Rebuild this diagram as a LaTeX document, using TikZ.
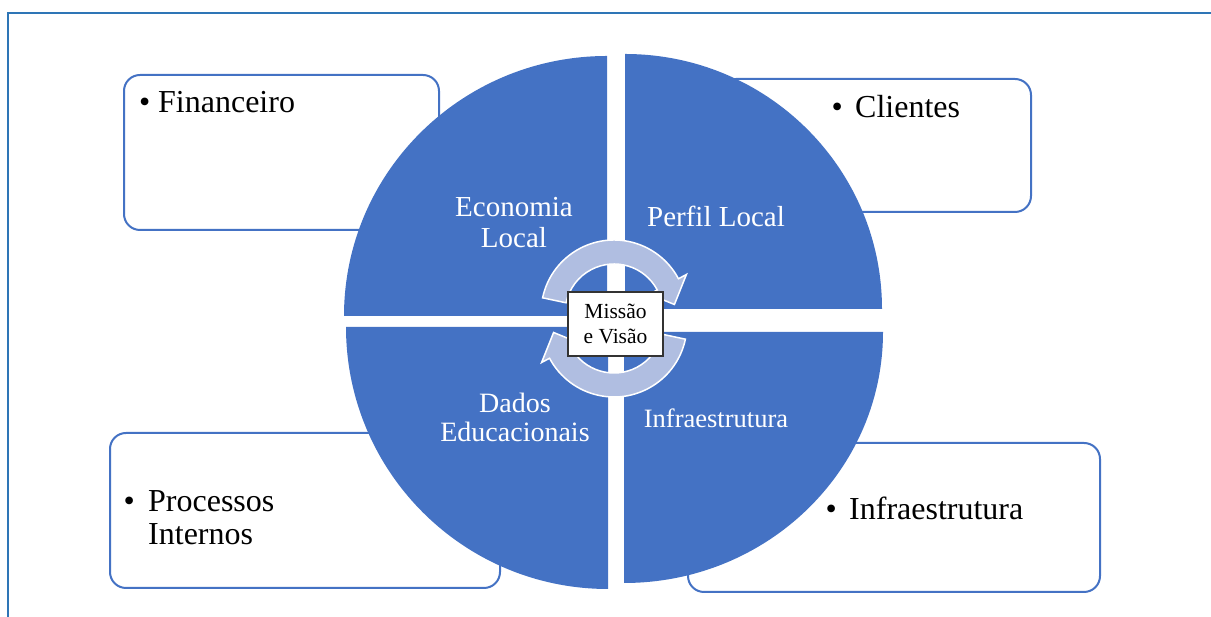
\documentclass[tikz,border=0pt]{standalone}
\usepackage{fontspec}
\setmainfont{Liberation Serif}
\usepackage{tikz}
\usetikzlibrary{positioning}
\definecolor{pieBlue}{RGB}{68,114,196}
\definecolor{frameBlue}{RGB}{46,117,182}
\definecolor{cycleFill}{RGB}{176,190,225}

\begin{document}
\begin{tikzpicture}[x=1pt,y=1pt,
  quad/.style={fill=pieBlue,draw=none},
  note/.style={rectangle,draw=pieBlue,line width=2pt,rounded corners=16pt,fill=white,inner sep=0pt},
  item/.style={inner sep=0pt,anchor=base west,font=\fontsize{32}{33}\selectfont},
  quadtext/.style={inner sep=0pt,anchor=base,text=white,font=\fontsize{29}{31}\selectfont},
  cyc/.style={fill=cycleFill,draw=white,line width=1.5pt,line join=miter},
  hub/.style={rectangle,draw=black!80,fill=white,line width=1.2pt,minimum width=95pt,
              minimum height=64pt,inner sep=0pt,align=center,font=\fontsize{21.5}{24.5}\selectfont}
]
  \useasboundingbox (0,0) rectangle (1211,617);
  \draw[frameBlue,line width=2pt] (8,-10) -- (8,603.5) -- (1225,603.5);

  % perspective boxes behind the pie
  \node[note,minimum width=315pt,minimum height=155pt] (finbox) at (281.5,464.5) {};
  \node[note,minimum width=311pt,minimum height=133pt] (clibox) at (875.5,471.5) {};
  \node[note,minimum width=390pt,minimum height=155pt] (procbox) at (305,106.5) {};
  \node[note,minimum width=412pt,minimum height=149pt] (infrabox) at (894,99.5) {};

  % four quarters of the pie
  \fill[quad] (607,301) -- ++(-263,0) arc[start angle=180,end angle=90,x radius=263,y radius=260] -- cycle;
  \fill[quad] (625,308) -- ++(0,255) arc[start angle=90,end angle=0,x radius=257,y radius=255] -- cycle;
  \fill[quad] (624,285) -- ++(259,0) arc[start angle=0,end angle=-90,x radius=259,y radius=251] -- cycle;
  \fill[quad] (608,290) -- ++(0,-262) arc[start angle=-90,end angle=-180,x radius=262,y radius=262] -- cycle;

  % cycle arrows round the hub
  \begin{scope}[shift={(614,304)}]
    \draw[cyc] (168:73) arc[start angle=168,end angle=28,radius=73] -- (28:82) -- (8:61)
      -- (28:40) -- (28:49) arc[start angle=28,end angle=168,radius=49] -- cycle;
  \end{scope}
  \begin{scope}[shift={(614,293)}]
    \draw[cyc] (-12:73) arc[start angle=-12,end angle=-152,radius=73] -- (-152:82) -- (-172:61)
      -- (-152:40) -- (-152:49) arc[start angle=-152,end angle=-12,radius=49] -- cycle;
  \end{scope}
  \node[hub] (hub) at (615.5,293) {Missão\\e Visão};

  % labels on the quarters
  \node[quadtext] (econ) at (514,400) {Economia};
  \node[quadtext] (econb) at (514,369) {Local};
  \node[quadtext] (perfil) at (716,390) {Perfil Local};
  \node[quadtext,font=\fontsize{28}{30}\selectfont] (dados) at (515,204) {Dados};
  \node[quadtext,font=\fontsize{28}{30}\selectfont] (dadosb) at (515,175) {Educacionais};
  \node[quadtext,font=\fontsize{26.5}{28}\selectfont] (infraq) at (716,189) {Infraestrutura};

  % bullet texts in the boxes
  \node[item] (fin) at (139,504) {\textbullet\hspace{7.8pt}Financeiro};
  \node[item] (cli) at (831.5,499) {\textbullet\hspace{12.3pt}Clientes};
  \node[item] (proc) at (123.5,105) {\textbullet\hspace{13.3pt}Processos};
  \node[item] (procb) at (148,72) {Internos};
  \node[item] (infra) at (825.5,97) {\textbullet\hspace{12.3pt}Infraestrutura};
\end{tikzpicture}
\end{document}
